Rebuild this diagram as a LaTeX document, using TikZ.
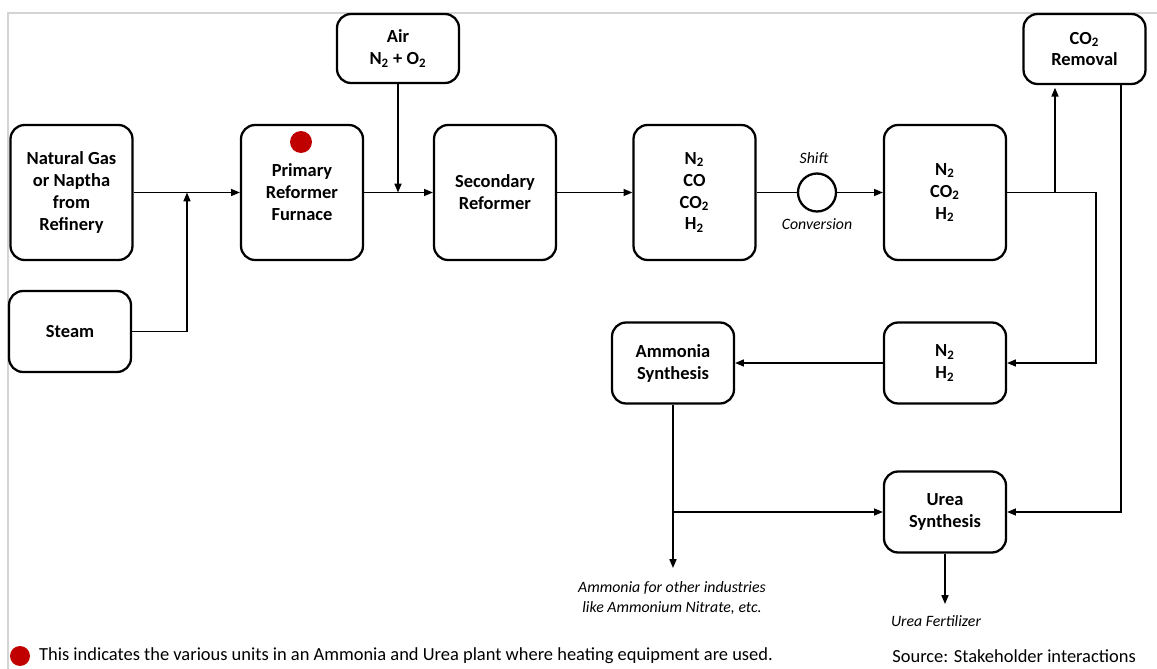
\documentclass[tikz,border=0pt]{standalone}
\usepackage{fontspec}
\setmainfont{Carlito}
\usetikzlibrary{arrows.meta,positioning}
\definecolor{heatred}{HTML}{C00000}
\definecolor{framegray}{HTML}{D4D4D4}
\newcommand{\chsub}[1]{\textsubscript{#1}}

\begin{document}
\begin{tikzpicture}[x=0.02cm,y=-0.02cm,
 unit/.style={draw,line width=1.3pt,rounded corners=8pt,align=center,inner sep=0pt,minimum width=2.44cm,font=\bfseries\fontsize{10.5}{12.5}\selectfont},
 tallbox/.style={unit,minimum height=2.7cm},
 shortbox/.style={unit,minimum height=1.62cm},
 flow/.style={line width=0.75pt,-{Triangle[length=5pt,width=4pt]}},
 pipe/.style={line width=0.75pt},
 note/.style={font=\itshape\fontsize{9}{11.5}\selectfont,align=center},
 heat/.style={circle,fill=heatred,inner sep=0pt,minimum size=0.44cm}]
\useasboundingbox (0,0) rectangle (1157,669);
\draw[framegray,line width=0.8pt] (8,669) -- (8,13) -- (1157,13);
% units
\node[tallbox] (feed) at (71.5,192.5) {Natural Gas\\or Naptha\\from\\Refinery};
\node[shortbox] (steam) at (70,331.5) {Steam};
\node[tallbox] (primary) at (302,192.5) {Primary\\Reformer\\Furnace};
\node[heat] (dot) at (301,142) {};
\node[unit,minimum height=1.38cm] (air) at (398,48.5) {Air\\N\chsub2 + O\chsub2};
\node[tallbox] (secondary) at (495,192.5) {Secondary\\Reformer};
\node[tallbox] (raw) at (694.5,192.5) {N\chsub2\\CO\\CO\chsub2\\H\chsub2};
\node[draw,circle,line width=1.3pt,minimum size=0.76cm,inner sep=0pt] (shift) at (817,192.5) {};
\node[note] (shifttop) at (814,158) {Shift};
\node[note] (shiftbot) at (817,224) {Conversion};
\node[tallbox] (shifted) at (945,192.5) {N\chsub2\\CO\chsub2\\H\chsub2};
\node[unit,minimum height=1.4cm] (removal) at (1084.5,49) {CO\chsub2\\Removal};
\node[shortbox] (synth) at (945,363) {N\chsub2\\H\chsub2};
\node[shortbox] (ammonia) at (673,363) {Ammonia\\Synthesis};
\node[shortbox] (urea) at (945,512) {Urea\\Synthesis};
% junctions and free ends
\coordinate (mix) at (187,192.5);
\coordinate (split) at (1055,192.5);
\coordinate (bend) at (1096,192.5);
\coordinate (co2out) at (1121,84);
\coordinate (nh3out) at (673,568);
\coordinate (ureaout) at (945,604);
% streams
\draw[flow] (feed) -- (primary);
\draw[flow] (steam.east) -| (mix);
\draw[flow] (primary) -- (secondary);
\draw[flow] (air.south) -- (air.south |- primary.east);
\draw[flow] (secondary) -- (raw);
\draw[pipe] (raw) -- (shift);
\draw[flow] (shift) -- (shifted);
\draw[flow,shorten >=1.5pt] (shifted.east) -- (split) -- (split |- removal.south);
\draw[flow] (split) -- (bend) |- (synth.east);
\draw[flow] (synth) -- (ammonia);
\draw[flow] (co2out) |- (urea.east);
\draw[flow] (ammonia.south) -- (nh3out);
\draw[flow] (ammonia.south |- urea.west) -- (urea.west);
\draw[flow] (urea) -- (ureaout);
% outputs
\node[note] (nh3text) at (672,598) {Ammonia for other industries\\like Ammonium Nitrate, etc.};
\node[note] (ureatext) at (936,621) {Urea Fertilizer};
% key and source
\node[heat,minimum size=0.4cm] (key) at (20,656) {};
\node[anchor=west,font=\fontsize{10.5}{12}\selectfont] (keytext) at (33,656) {This indicates the various units in an Ammonia and Urea plant where heating equipment are used.};
\node[anchor=east,font=\fontsize{10.5}{12}\selectfont] (source) at (1142,656) {Source: Stakeholder interactions};
\end{tikzpicture}
\end{document}
